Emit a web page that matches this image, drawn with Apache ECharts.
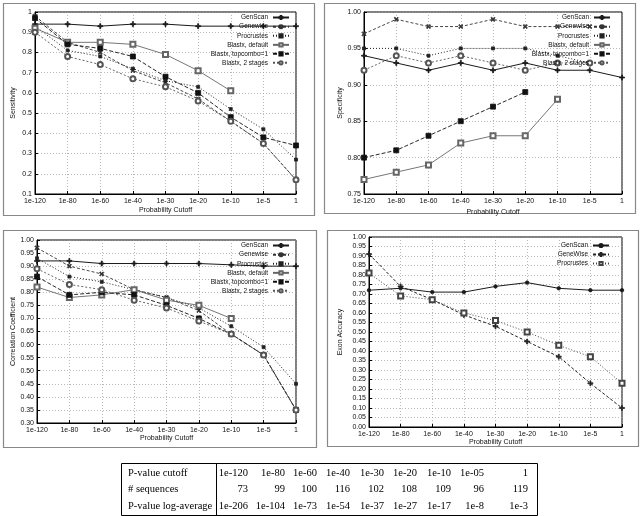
<!DOCTYPE html>
<html><head><meta charset="utf-8">
<script src="https://cdn.jsdelivr.net/npm/echarts@6/dist/echarts.min.js"></script>
<style>html,body{margin:0;padding:0;background:#fff}#c{width:640px;height:516px}</style>
</head><body><div id="c"></div>
<script>
const cutoffs = ['1e-120','1e-80','1e-60','1e-40','1e-30','1e-20','1e-10','1e-5','1'];

const sensGenScan    = [0.94,0.94,0.93,0.94,0.94,0.93,0.93,0.93,0.93];
const sensGenewise   = [0.98,0.85,0.80,0.71,0.65,0.57,0.46,0.35,0.17];
const sensProcrustes = [0.93,0.81,0.78,0.72,0.66,0.63,0.52,0.42,0.27];
const sensDefault    = [0.92,0.85,0.85,0.84,0.79,0.71,0.61,null,null];
const sensTopcombo   = [0.97,0.84,0.82,0.78,0.68,0.60,0.48,0.38,0.34];
const sensTwoStage   = [0.90,0.78,0.74,0.67,0.63,0.56,0.46,0.35,0.17];

const specGenScan    = [0.94,0.93,0.92,0.93,0.92,0.93,0.92,0.92,0.91];
const specGenewise   = [0.97,0.99,0.98,0.98,0.99,0.98,0.98,0.98,null];
const specProcrustes = [0.95,0.95,0.94,0.95,0.95,0.95,0.94,0.93,null];
const specDefault    = [0.77,0.78,0.79,0.82,0.83,0.83,0.88,null,null];
const specTopcombo   = [0.80,0.81,0.83,0.85,0.87,0.89,null,null,null];
const specTwoStage   = [0.92,0.94,0.93,0.94,0.93,0.92,0.93,0.93,null];

const corrGenScan    = [0.92,0.92,0.91,0.91,0.91,0.91,0.905,0.90,0.90];
const corrGenewise   = [0.97,0.90,0.87,0.81,0.78,0.73,0.64,0.56,0.35];
const corrProcrustes = [0.93,0.86,0.84,0.81,0.78,0.74,0.67,0.59,0.45];
const corrDefault    = [0.82,0.78,0.79,0.81,0.77,0.75,0.70,null,null];
const corrTopcombo   = [0.86,0.79,0.80,0.79,0.75,0.70,0.64,0.56,0.35];
const corrTwoStage   = [0.89,0.83,0.81,0.77,0.74,0.69,0.64,0.56,0.35];

const exonGenScan    = [0.72,0.73,0.71,0.71,0.74,0.76,0.73,0.72,0.72];
const exonGeneWise   = [0.91,0.74,0.67,0.59,0.53,0.45,0.37,0.23,0.10];
const exonProcrustes = [0.81,0.69,0.67,0.60,0.56,0.50,0.43,0.37,0.23];

const tableRowLabels = ['P-value cutoff','# sequences','P-value log-average'];
const tableCutoff = ['1e-120','1e-80','1e-60','1e-40','1e-30','1e-20','1e-10','1e-05','1'];
const tableSeqs   = [73,99,100,116,102,108,109,96,119];
const tableLogAvg = ['1e-206','1e-104','1e-73','1e-54','1e-37','1e-27','1e-17','1e-8','1e-3'];

const PLUS = 'path://M4,0h2v4h4v2h-4v4h-2v-4h-4v-2h4z';
const sans = 'Liberation Sans';

const styles = {
  genscan:   {color:'#1a1a1a', type:'solid',  width:1,   symbol:PLUS, size:5, rot:0},
  genewise:  {color:'#333',    type:[3,2],    width:0.9, symbol:PLUS, size:5, rot:45},
  procrustes:{color:'#222',    type:[1,2],    width:1,   symbol:'rect', size:3, rot:0},
  def:       {color:'#666',    type:'solid',  width:0.9, symbol:'emptyRect', size:5, rot:0},
  topcombo:  {color:'#111',    type:[4,2],    width:0.9, symbol:'rect', size:5, rot:0},
  twostage:  {color:'#555',    type:[2,2],    width:0.9, symbol:'emptyCircle', size:5, rot:0}
};

function mk(name, idx, data, st, z) {
  return {
    name: name + '#' + idx, type:'line', xAxisIndex: idx, yAxisIndex: idx, data: data,
    symbol: st.symbol, symbolSize: st.size, symbolRotate: st.rot, showAllSymbol: true,
    lineStyle:{color: st.color, width: st.width, type: st.type},
    itemStyle:{color: st.color, borderColor: st.color, borderWidth: 0.8},
    connectNulls:false, animation:false, z: z || 2
  };
}

const grids = [
  {left:35, top:12, width:261, height:182},
  {left:364, top:12, width:258, height:182},
  {left:37, top:240, width:259, height:183},
  {left:369, top:237, width:253, height:190}
];
const yCfg = [
  {min:0.1, max:1, interval:0.1, dec:1, name:'Sensitivity', gap:18},
  {min:0.75, max:1, interval:0.05, dec:2, name:'Specificity', gap:20},
  {min:0.3, max:1, interval:0.05, dec:2, name:'Correlation Coefficient', gap:19},
  {min:0, max:1, interval:0.05, dec:2, name:'Exon Accuracy', gap:25}
];
const xGaps = [13, 15, 10, 7];

const xAxis = grids.map((g,i)=>({
  type:'category', gridIndex:i, data: cutoffs, boundaryGap:false,
  name:'Probability Cutoff', nameLocation:'middle', nameGap: xGaps[i],
  nameTextStyle:{fontFamily:sans, fontSize:7, color:'#111'},
  axisLine:{lineStyle:{color:'#000', width:1}},
  axisTick:{inside:true, length:3, lineStyle:{color:'#000'}},
  axisLabel:{fontFamily:sans, fontSize:7, color:'#111', margin:4},
  splitLine:{show:true, lineStyle:{color:'#999', type:[1,2], width:0.7}}
}));
const yAxis = yCfg.map((c,i)=>({
  type:'value', gridIndex:i, min:c.min, max:c.max, interval:c.interval,
  name:c.name, nameLocation:'middle', nameGap:c.gap, nameRotate:90,
  nameTextStyle:{fontFamily:sans, fontSize:7, color:'#111'},
  axisLine:{show:true, lineStyle:{color:'#000', width:1}},
  axisTick:{show:true, inside:true, length:3, lineStyle:{color:'#000'}},
  axisLabel:{fontFamily:sans, fontSize:7, color:'#111', margin:3,
    formatter: v => c.dec === 1 ? String(+v.toFixed(1)) : v.toFixed(2)},
  splitLine:{show:true, lineStyle:{color:'#999', type:[1,2], width:0.7}}
}));

const S = styles;
const exonStyles = {
  genscan: {color:'#1a1a1a', type:'solid', width:1, symbol:'circle', size:3.5, rot:0},
  genewise:{color:'#222', type:[3,2], width:1, symbol:PLUS, size:5, rot:0},
  procrustes:{color:'#444', type:[1,2], width:1, symbol:'emptyRect', size:5, rot:0}
};
const series = [
  mk('GenScan',0,sensGenScan,S.genscan), mk('Genewise',0,sensGenewise,S.genewise),
  mk('Procrustes',0,sensProcrustes,S.procrustes), mk('Blastx, default',0,sensDefault,S.def),
  mk('Blastx, topcombo=1',0,sensTopcombo,S.topcombo), mk('Blastx, 2 stages',0,sensTwoStage,S.twostage),
  mk('GenScan',1,specGenScan,S.genscan), mk('Genewise',1,specGenewise,S.genewise),
  mk('Procrustes',1,specProcrustes,S.procrustes), mk('Blastx, default',1,specDefault,S.def),
  mk('Blastx, topcombo=1',1,specTopcombo,S.topcombo), mk('Blastx, 2 stages',1,specTwoStage,S.twostage),
  mk('GenScan',2,corrGenScan,S.genscan), mk('Genewise',2,corrGenewise,S.genewise),
  mk('Procrustes',2,corrProcrustes,S.procrustes), mk('Blastx, default',2,corrDefault,S.def),
  mk('Blastx, topcombo=1',2,corrTopcombo,S.topcombo), mk('Blastx, 2 stages',2,corrTwoStage,S.twostage),
  mk('GenScan',3,exonGenScan,exonStyles.genscan), mk('GeneWise',3,exonGeneWise,exonStyles.genewise),
  mk('Procrustes',3,exonProcrustes,exonStyles.procrustes)
];

const legendPos = [
  {right:350, top:14}, {right:29, top:14}, {right:350, top:242}, {right:30, top:242}
];
const legend = legendPos.map((p,i)=>({
  orient:'vertical', align:'right', right:p.right, top:p.top,
  itemWidth:16, itemHeight:4, itemGap:2, padding:0,
  backgroundColor:'rgba(255,255,255,0)',
  textStyle:{fontFamily:sans, fontSize:6.5, color:'#111', lineHeight:6, padding:[0,0,0,0]},
  formatter: n => n.split('#')[0],
  data: series.filter(s=>s.xAxisIndex===i).map(s=>s.name)
}));

const graphic = [];
[[3,3,311,212],[324,3,311,210],[3,230,313,217],[327,230,311,216]].forEach(b=>{
  graphic.push({type:'rect', shape:{x:b[0]+0.5,y:b[1]+0.5,width:b[2],height:b[3]},
    style:{fill:null, stroke:'#888', lineWidth:1.2}, silent:true});
});
// table
const tX = 121, tY = 463, tW = 416, tH = 52, sepX = 216;
graphic.push({type:'rect', shape:{x:tX+0.5,y:tY+0.5,width:tW,height:tH}, style:{fill:null, stroke:'#000', lineWidth:1}, silent:true});
graphic.push({type:'line', shape:{x1:sepX+0.5,y1:tY,x2:sepX+0.5,y2:tY+tH}, style:{stroke:'#000', lineWidth:1}, silent:true});
const colRight = [248,285,317,350,384,417,451,484,528];
const rowY = [473,489.5,506];
const rows = [tableCutoff, tableSeqs, tableLogAvg];
const serif = 'Liberation Serif';
tableRowLabels.forEach((lab,r)=>{
  graphic.push({type:'text', x:128, y:rowY[r], style:{text:lab, fontFamily:serif, fontSize:10.5, fill:'#000', textAlign:'left', textVerticalAlign:'middle'}, silent:true});
  rows[r].forEach((v,c)=>{
    graphic.push({type:'text', x:colRight[c], y:rowY[r], style:{text:String(v), fontFamily:serif, fontSize:10.5, fill:'#000', textAlign:'right', textVerticalAlign:'middle'}, silent:true});
  });
});

const chart = echarts.init(document.getElementById('c'), null, {renderer:'canvas'});
chart.setOption({
  animation:false, backgroundColor:'#fff',
  grid: grids.map(g=>Object.assign({show:true, borderColor:'#000', borderWidth:1, backgroundColor:'transparent'}, g)),
  xAxis, yAxis, legend, series, graphic
});
</script></body></html>
